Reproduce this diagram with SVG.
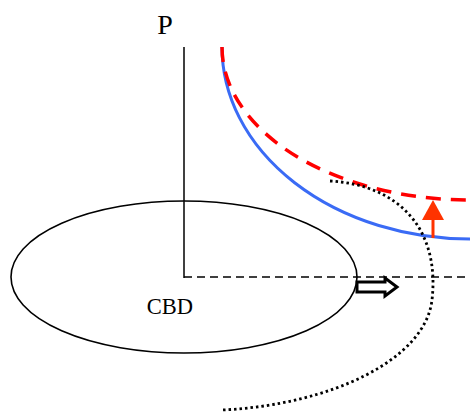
<svg xmlns="http://www.w3.org/2000/svg" width="470" height="412" viewBox="0 0 470 412">
<style>
.serif{font-family:"Liberation Serif","Times New Roman",serif;fill:#000}
.ax{stroke:#000;stroke-width:1.5;fill:none}
</style>
<rect width="470" height="412" fill="#fff"/>
<g id="axes">
<line class="ax" x1="184" y1="47" x2="184" y2="278"/>
<line class="ax" x1="184" y1="277" x2="470" y2="277" stroke-dasharray="8,5"/>
<text class="serif" x="165" y="34" font-size="28" text-anchor="middle">P</text>
</g>
<g id="cbd">
<ellipse cx="184" cy="277" rx="173" ry="76" fill="none" stroke="#000" stroke-width="1.6"/>
<text class="serif" x="170" y="314" font-size="22.5" text-anchor="middle">CBD</text>
</g>
<g id="curves">
<path d="M222,47 A248,192 0 0,0 470,239" fill="none" stroke="#3A6BF5" stroke-width="3"/>
<path d="M222,47 A248,153 0 0,0 470,200" fill="none" stroke="#FF0000" stroke-width="3.5" stroke-dasharray="15,10"/>
<path d="M330,181 C400,185 440,230 432,300 C425,360 330,405 222,410" fill="none" stroke="#000" stroke-width="2.8" stroke-dasharray="2.5,3"/>
</g>
<g id="connectors">
<line x1="433" y1="238" x2="433" y2="216" stroke="#FF3300" stroke-width="3"/>
<polygon points="433,200 444,220 422,220" fill="#FF3300"/>
<polygon points="357,282 385,282 385,278 397,287 385,296 385,292 357,292" fill="#fff" stroke="#000" stroke-width="3" stroke-linejoin="miter"/>
</g>
</svg>
